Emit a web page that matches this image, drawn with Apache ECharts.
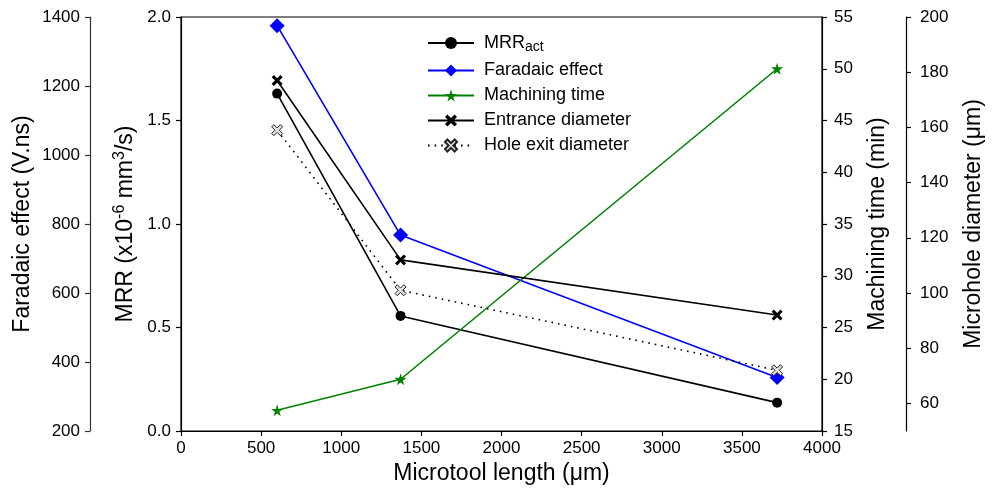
<!DOCTYPE html>
<html>
<head>
<meta charset="utf-8">
<script src="https://cdn.jsdelivr.net/npm/echarts@6/dist/echarts.min.js"></script>
<style>html,body{margin:0;padding:0;background:#fff}#c{width:995px;height:490px}</style>
</head>
<body>
<div id="c"></div>
<script>
// ---- data ----
const microtoolLength = [600, 1370, 3720];
const mrrAct = [1.63, 0.556, 0.137];
const faradaicEffect = [1375, 768, 355];
const machiningTime = [17, 20, 50];
const entranceDiameter = [177, 112, 92];
const holeExitDiameter = [159, 101, 72];
const xTicks = [0, 500, 1000, 1500, 2000, 2500, 3000, 3500, 4000];
const microholeTicks = [60, 80, 100, 120, 140, 160, 180, 200];
const seriesNames = ['MRR_act', 'Faradaic effect', 'Machining time', 'Entrance diameter', 'Hole exit diameter'];

const FONT = "'Liberation Sans', Arial, sans-serif";
const pairs = ys => microtoolLength.map((x, i) => [x, ys[i]]);
const STAR = 'path://M50,0 L61,35 L98,35 L68,57 L79,91 L50,70 L21,91 L32,57 L2,35 L39,35 Z';
const XMARK = 'path://M2,0 L5,3 L8,0 L10,2 L7,5 L10,8 L8,10 L5,7 L2,10 L0,8 L3,5 L0,2 Z';

const plain = v => String(v);
const lbl = {fontFamily: FONT, fontSize: 17, color: '#000', formatter: plain};
const ttl = {fontFamily: FONT, fontSize: 23, color: '#000'};
const line = c => ({show: true, lineStyle: {color: c, width: 1.2}});
const tick = c => ({show: true, inside: false, length: 5, lineStyle: {color: c, width: 1.2}});

const chart = echarts.init(document.getElementById('c'), null, {renderer: 'canvas'});
chart.setOption({
  animation: false,
  backgroundColor: '#fff',
  grid: {left: 181, right: 173, top: 17, bottom: 59, show: true, borderColor: '#000', borderWidth: 1.2,
    backgroundColor: 'transparent', containLabel: false, outerBoundsMode: 'none'},
  legend: {
    orient: 'vertical', left: 427, top: 34, padding: 0,
    itemWidth: 46, itemHeight: 15, itemGap: 7,
    data: seriesNames,
    formatter: n => n === 'MRR_act' ? '{m|MRR}{s|act}' : n,
    textStyle: {fontFamily: FONT, fontSize: 18, color: '#000', padding: [0, 0, 0, 5],
      rich: {m: {fontFamily: FONT, fontSize: 18, color: '#000'}, s: {fontFamily: FONT, fontSize: 14, color: '#000', padding: [9, 0, 0, 0]}}}
  },
  xAxis: {
    type: 'value', min: 0, max: 4000, interval: 500,
    name: 'Microtool length (\u03bcm)', nameLocation: 'middle', nameGap: 31, nameTextStyle: ttl, nameMoveOverlap: false,
    axisLine: line('#000'), axisTick: tick('#000'), axisLabel: Object.assign({}, lbl, {margin: 9}),
    splitLine: {show: false}
  },
  yAxis: [
    {
      type: 'value', min: 0, max: 2, interval: 0.5, position: 'left',
      name: '{a|MRR (x10}{p|-6}{a| mm}{p|3}{a|/s)}', nameLocation: 'middle', nameGap: 41, nameMoveOverlap: false,
      nameTextStyle: {fontFamily: FONT, fontSize: 23, color: '#000',
        rich: {a: {fontFamily: FONT, fontSize: 23, color: '#000'}, p: {fontFamily: FONT, fontSize: 16, color: '#000', padding: [0, 0, 12, 0]}}},
      axisLine: line('#000'), axisTick: tick('#000'),
      axisLabel: Object.assign({}, lbl, {margin: 10, formatter: v => v.toFixed(1)}),
      splitLine: {show: false}
    },
    {
      type: 'value', min: 200, max: 1400, interval: 200, position: 'left', offset: 91,
      name: 'Faradaic effect (V.ns)', nameLocation: 'middle', nameGap: 56, nameTextStyle: ttl, nameMoveOverlap: false,
      axisLine: line('#333'), axisTick: tick('#333'), axisLabel: Object.assign({}, lbl, {margin: 10}),
      splitLine: {show: false}
    },
    {
      type: 'value', min: 15, max: 55, interval: 5, position: 'right',
      name: 'Machining time (min)', nameLocation: 'middle', nameGap: 44, nameTextStyle: ttl, nameMoveOverlap: false,
      axisLine: line('#000'), axisTick: tick('#000'), axisLabel: Object.assign({}, lbl, {margin: 12}),
      splitLine: {show: false}
    },
    {
      type: 'value', min: 50, max: 200, position: 'right', offset: 84,
      name: 'Microhole diameter (\u03bcm)', nameLocation: 'middle', nameGap: 56, nameTextStyle: ttl, nameMoveOverlap: false,
      axisLine: line('#000'),
      axisTick: Object.assign({customValues: microholeTicks}, tick('#000')),
      axisLabel: Object.assign({}, lbl, {margin: 14, customValues: microholeTicks}),
      splitLine: {show: false}
    }
  ],
  series: [
    {name: 'MRR_act', type: 'line', yAxisIndex: 0, data: pairs(mrrAct),
      symbol: 'circle', symbolSize: 10, itemStyle: {color: '#000'}, lineStyle: {color: '#000', width: 1.6}},
    {name: 'Faradaic effect', type: 'line', yAxisIndex: 1, data: pairs(faradaicEffect),
      symbol: 'diamond', symbolSize: 15, itemStyle: {color: '#0000ff'}, lineStyle: {color: '#0000ff', width: 1.6}},
    {name: 'Machining time', type: 'line', yAxisIndex: 2, data: pairs(machiningTime),
      symbol: STAR, symbolSize: 12, itemStyle: {color: '#008000'}, lineStyle: {color: '#008000', width: 1.6}},
    {name: 'Entrance diameter', type: 'line', yAxisIndex: 3, data: pairs(entranceDiameter),
      symbol: XMARK, symbolSize: 11, itemStyle: {color: '#000'}, lineStyle: {color: '#000', width: 1.6}},
    {name: 'Hole exit diameter', type: 'line', yAxisIndex: 3, data: pairs(holeExitDiameter),
      symbol: XMARK, symbolSize: 11, itemStyle: {color: '#e0e0e0', borderColor: '#222', borderWidth: 1},
      lineStyle: {color: '#000', width: 1.6, type: [1.6, 5]}}
  ]
});
</script>
</body>
</html>
